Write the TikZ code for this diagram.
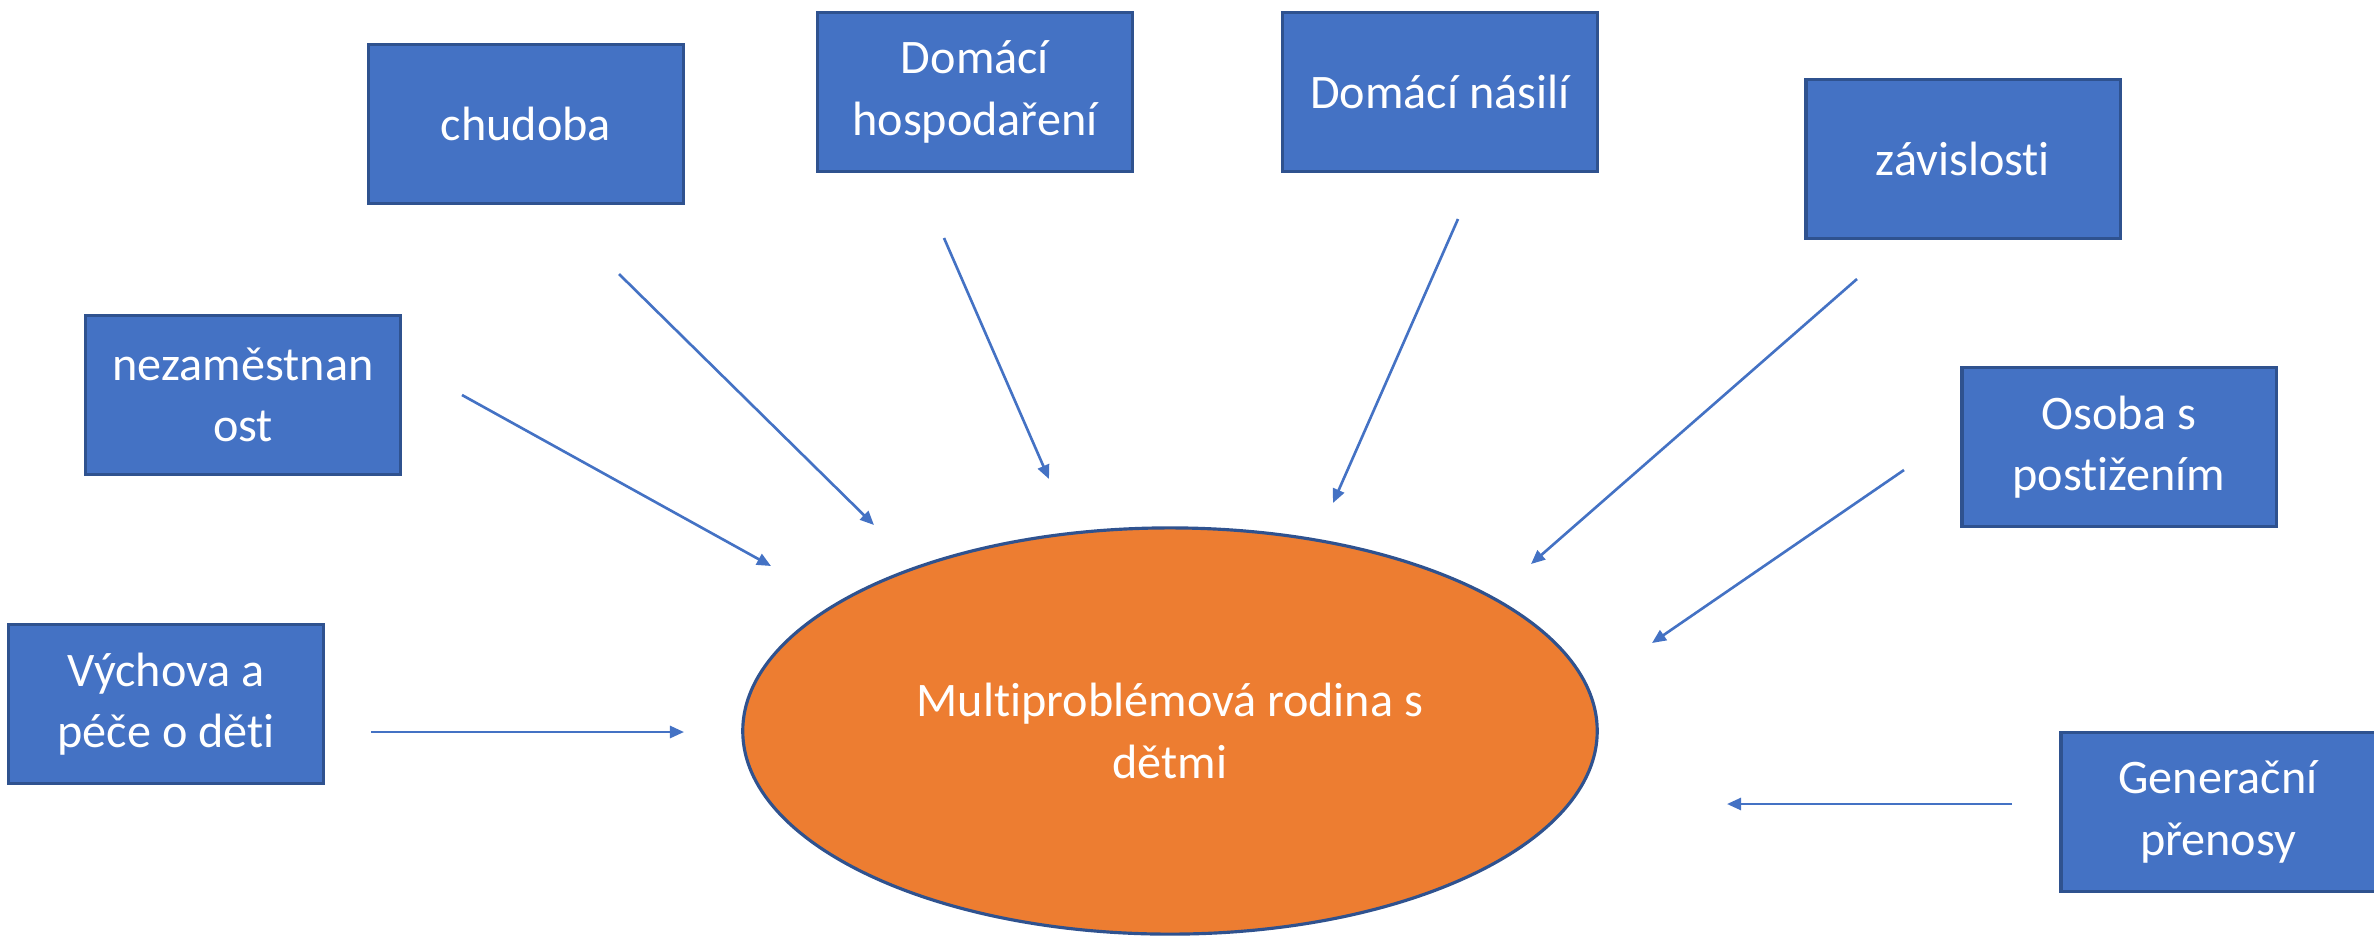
\documentclass[tikz,border=0pt]{standalone}
\usepackage{fontspec}
\setmainfont{Carlito}[Ligatures={NoCommon,NoContextual}]
\usetikzlibrary{arrows.meta,shapes.geometric}
\definecolor{boxblue}{HTML}{4472C4}
\definecolor{edgeblue}{HTML}{2F528F}
\definecolor{familyorange}{HTML}{ED7D31}
\tikzstyle{factorbox}=[draw=edgeblue,fill=boxblue,line width=0.9pt,minimum width=3.14cm,minimum height=1.59cm,text=white,align=center]
\tikzstyle{push}=[draw=boxblue,line width=0.75pt,-{Triangle[length=0.14cm,width=0.12cm]}]
\newcommand{\factor}[3]{\node[factorbox] (#1) at (#2) {#3};}

\begin{document}
\begin{tikzpicture}[x=0.01cm,y=-0.01cm,font=\fontsize{13.7}{17.4}\selectfont]
    \useasboundingbox (0,0) rectangle (2374,935);

    % the family in the middle
    \node[ellipse,draw=edgeblue,fill=familyorange,line width=0.9pt,minimum width=8.54cm,minimum height=4.06cm,text=white,align=center] (rodina) at (1170,731) {Multiproblémová rodina s\\dětmi};

    % the problems around it
    \factor{chudoba}{526,124}{chudoba}
    \factor{hospodareni}{975,92}{Domácí\\hospodaření}
    \factor{nasili}{1440,92}{Domácí násilí}
    \factor{zavislosti}{1963,159}{závislosti}
    \factor{nezam}{243,395}{nezaměstnan\\ost}
    \factor{osoba}{2119,447}{Osoba s\\postižením}
    \factor{vychova}{166,704}{Výchova a\\péče o děti}
    \factor{generace}{2218,812}{Generační\\přenosy}

    % arrow ends
    \coordinate (nezam-a) at (462,395);       \coordinate (nezam-b) at (771,566);
    \coordinate (chudoba-a) at (619,274);     \coordinate (chudoba-b) at (874,525);
    \coordinate (hospodareni-a) at (944,238); \coordinate (hospodareni-b) at (1049,479);
    \coordinate (nasili-a) at (1458,219);     \coordinate (nasili-b) at (1333,503);
    \coordinate (zavislosti-a) at (1857,279); \coordinate (zavislosti-b) at (1531,564);
    \coordinate (osoba-a) at (1904,470);      \coordinate (osoba-b) at (1652,643);
    \coordinate (vychova-a) at (371,732);     \coordinate (vychova-b) at (684,732);
    \coordinate (generace-a) at (2012,804);   \coordinate (generace-b) at (1727,804);

    \draw[push] (nezam-a) -- (nezam-b);
    \draw[push] (chudoba-a) -- (chudoba-b);
    \draw[push] (hospodareni-a) -- (hospodareni-b);
    \draw[push] (nasili-a) -- (nasili-b);
    \draw[push] (zavislosti-a) -- (zavislosti-b);
    \draw[push] (osoba-a) -- (osoba-b);
    \draw[push] (vychova-a) -- (vychova-b);
    \draw[push] (generace-a) -- (generace-b);
\end{tikzpicture}
\end{document}
